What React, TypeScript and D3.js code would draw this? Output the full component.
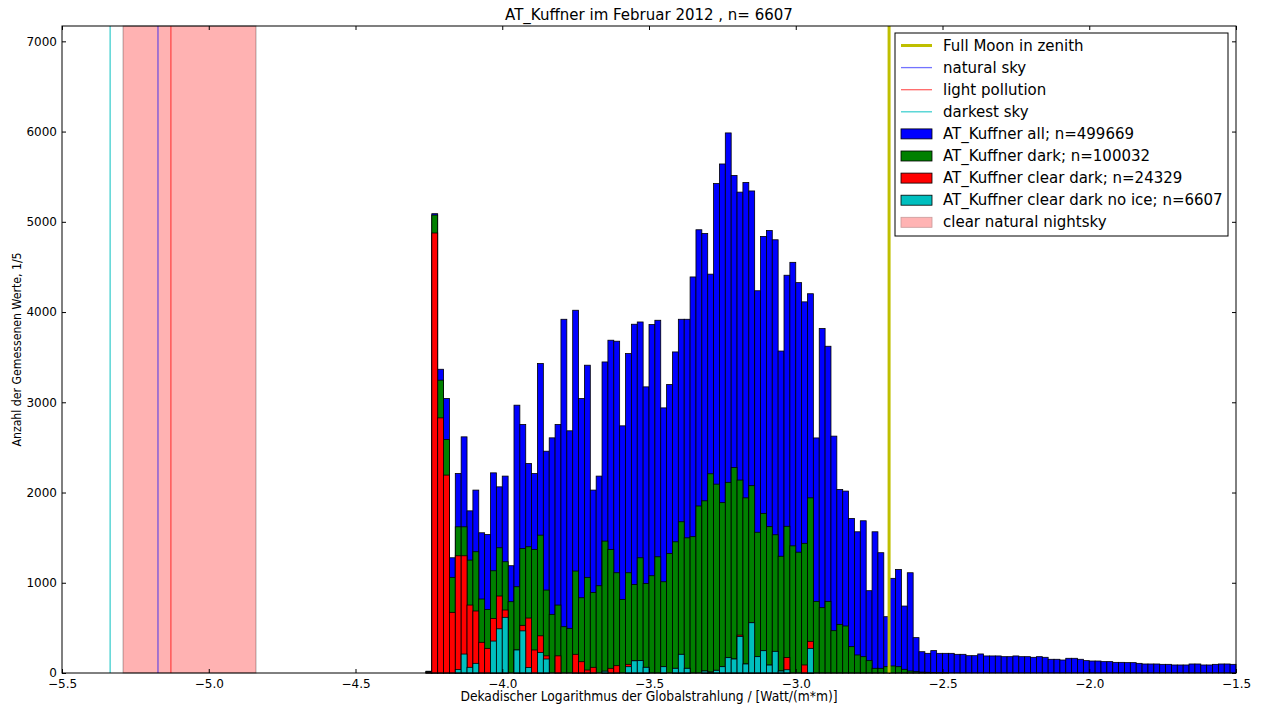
import React, { useEffect, useRef } from 'react';
import * as d3 from 'd3';

// histogram: 200 bins of 0.02 over [-5.5, -1.5]; arrays start at bin -4.26
const BIN_WIDTH = 0.02;
const FIRST_BIN = -4.26;

const allCounts = [
  20, 5090, 3366, 3042, 1277, 2211, 2617, 1797, 2027, 1554,
  1535, 2218, 2063, 2182, 1189, 2968, 2754, 2322, 2211, 3429,
  2458, 2606, 2754, 3920, 2684, 4020, 3042, 3411, 2027, 2182,
  3447, 3688, 3677, 2739, 3540, 3865, 3890, 3171, 3861, 3909,
  2938, 3197, 3558, 3920, 3920, 4389, 4912, 4871, 4420, 5424,
  5641, 5985, 5514, 5329, 5436, 5342, 4236, 4838, 4903, 4801,
  3568, 4408, 4551, 4326, 4113, 4203, 2605, 3818, 3621, 2625,
  2034, 2016, 1713, 1565, 1687, 912, 1565, 1333, 624, 1049,
  1148, 742, 1111, 392,
  236, 218, 248, 218, 218, 218, 207, 207, 192, 192,
  211, 189, 189, 189, 181, 181, 189, 181, 181, 174,
  181, 174, 152, 152, 144, 163, 163, 152, 137, 133,
  133, 126, 126, 118, 118, 115, 115, 107, 100, 100,
  100, 96, 96, 89, 89, 89, 100, 100, 89, 89,
  96, 100, 100, 96,
];

const darkCounts = [
  15, 5075, 3245, 2588, 1060, 1620, 1620, 1251, 1344, 820,
  705, 1133, 1388, 1233, 790, 956, 1380, 1399, 1370, 1528,
  919, 650, 753, 513, 495, 1130, 834, 1060, 893, 967,
  1462, 1370, 1111, 816, 1111, 982, 1277, 993, 1078, 1288,
  1011, 1325, 1454, 1676, 1498, 1511, 1851, 1908, 2208, 2093,
  1888, 2113, 2277, 2138, 1941, 2076, 1560, 1769, 1622, 1532,
  1294, 1626, 1409, 1339, 1437, 1941, 794, 724, 794, 469,
  539, 521, 292, 200, 181, 137, 52, 52, 70, 78,
  70, 41, 22, 15, 10, 8, 5, 4, 3,
];

const clearDarkCounts = [
  10, 4876, 2827, 2193, 672, 1299, 1299, 753, 687, 340,
  273, 605, 853, 698, 0, 255, 528, 609, 255, 412,
  190, 0, 190, 0, 0, 207, 125, 33, 63, 0,
  20, 52, 81, 0, 96, 137, 137, 63, 0, 0,
  70, 0, 52, 207, 52, 0, 0, 22, 10, 30,
  70, 170, 155, 420, 100, 560, 181, 247, 88, 240,
  22, 171, 0, 0, 89, 351,
];

const noIceCounts = [
  0, 0, 0, 0, 0, 40, 210, 63, 107, 0,
  0, 354, 490, 617, 0, 255, 467, 62, 0, 227,
  155, 0, 0, 0, 0, 0, 0, 0, 0, 0,
  20, 0, 0, 0, 70, 135, 137, 63, 0, 0,
  70, 0, 52, 207, 52, 0, 0, 22, 10, 30,
  70, 170, 155, 405, 100, 557, 181, 247, 88, 240,
  22, 36, 0, 0, 0, 273,
];

const histSeries = [
  { label: 'AT_Kuffner all; n=499669', color: '#0000ff', counts: allCounts },
  { label: 'AT_Kuffner dark; n=100032', color: '#008000', counts: darkCounts },
  { label: 'AT_Kuffner clear dark; n=24329', color: '#ff0000', counts: clearDarkCounts },
  { label: 'AT_Kuffner clear dark no ice; n=6607', color: '#00bfbf', counts: noIceCounts },
];

const refLines = [
  { label: 'Full Moon in zenith', value: -2.682, color: '#bfbf00', width: 3, opacity: 1 },
  { label: 'natural sky', value: -5.173, color: '#0000ff', width: 1.3, opacity: 0.55 },
  { label: 'light pollution', value: -5.129, color: '#ff0000', width: 1.3, opacity: 0.6 },
  { label: 'darkest sky', value: -5.336, color: '#00bfbf', width: 1.3, opacity: 0.75 },
];

const nightSpan = { label: 'clear natural nightsky', from: -5.292, to: -4.839 };

const xTicks = [-5.5, -5.0, -4.5, -4.0, -3.5, -3.0, -2.5, -2.0, -1.5];
const yTicks = [0, 1000, 2000, 3000, 4000, 5000, 6000, 7000];

const TITLE = 'AT_Kuffner im Februar 2012 , n= 6607';
const X_LABEL = 'Dekadischer Logarithmus der Globalstrahlung / [Watt/(m*m)]';
const Y_LABEL = 'Anzahl der Gemessenen Werte, 1/5';

const FONT = "'DejaVu Sans', 'Bitstream Vera Sans', sans-serif";
const NARROW = "'DejaVu Sans Condensed', 'Liberation Sans Narrow', 'DejaVu Sans', sans-serif";

export default function App() {
  const ref = useRef<SVGSVGElement>(null);

  useEffect(() => {
    if (!ref.current) return;
    const svg = d3.select(ref.current);
    svg.selectAll('*').remove();

    const width = 1262;
    const height = 706;
    const margin = { top: 26, right: 26, bottom: 33, left: 62 };

    svg.attr('width', width).attr('height', height).attr('viewBox', `0 0 ${width} ${height}`);
    svg.append('rect').attr('width', width).attr('height', height).attr('fill', '#fff');

    const x = d3.scaleLinear().domain([-5.5, -1.5]).range([margin.left, width - margin.right]);
    const y = d3.scaleLinear().domain([0, 7170]).range([height - margin.bottom, margin.top]);

    const plot = svg.append('g');

    // ------- span -------
    plot
      .append('rect')
      .attr('x', x(nightSpan.from))
      .attr('y', y(7170))
      .attr('width', x(nightSpan.to) - x(nightSpan.from))
      .attr('height', y(0) - y(7170))
      .attr('fill', '#ff0000')
      .attr('fill-opacity', 0.3)
      .attr('stroke', '#000')
      .attr('stroke-opacity', 0.3);

    // ------- bars -------
    const bw = x(BIN_WIDTH) - x(0);
    histSeries.forEach((s) => {
      const bins = s.counts
        .map((c, i) => ({ left: FIRST_BIN + i * BIN_WIDTH, c }))
        .filter((d) => d.c > 0);
      plot
        .append('g')
        .selectAll('rect')
        .data(bins)
        .enter()
        .append('rect')
        .attr('x', (d) => x(d.left))
        .attr('y', (d) => y(d.c))
        .attr('width', bw)
        .attr('height', (d) => y(0) - y(d.c))
        .attr('fill', s.color)
        .attr('stroke', '#000')
        .attr('stroke-width', 0.8);
    });

    // ------- reference lines -------
    [...refLines].reverse().forEach((l) => {
      plot
        .append('line')
        .attr('x1', x(l.value))
        .attr('x2', x(l.value))
        .attr('y1', y(0))
        .attr('y2', y(7170))
        .attr('stroke', l.color)
        .attr('stroke-opacity', l.opacity)
        .attr('stroke-width', l.width);
    });

    // ------- axes -------
    const fmt = (v: number) => v.toFixed(1).replace('-', '\u2212');
    const bottom = svg
      .append('g')
      .attr('transform', `translate(0,${y(0)})`)
      .call(d3.axisBottom(x).tickValues(xTicks).tickFormat(fmt as any).tickSizeInner(-4).tickSizeOuter(0).tickPadding(6));
    const left = svg
      .append('g')
      .attr('transform', `translate(${x(-5.5)},0)`)
      .call(d3.axisLeft(y).tickValues(yTicks).tickFormat(d3.format('d') as any).tickSizeInner(-4).tickSizeOuter(0).tickPadding(5));
    svg
      .append('g')
      .attr('transform', `translate(0,${y(7170)})`)
      .call(d3.axisTop(x).tickValues(xTicks).tickFormat(() => '').tickSizeInner(-4).tickSizeOuter(0));
    svg
      .append('g')
      .attr('transform', `translate(${x(-1.5)},0)`)
      .call(d3.axisRight(y).tickValues(yTicks).tickFormat(() => '').tickSizeInner(-4).tickSizeOuter(0));
    svg.selectAll('.domain').remove();
    svg.selectAll('.tick line').attr('stroke', '#000');
    [bottom, left].forEach((g) =>
      g.selectAll('text').attr('font-family', FONT).attr('font-size', 12).attr('fill', '#000')
    );

    svg
      .append('rect')
      .attr('x', x(-5.5))
      .attr('y', y(7170))
      .attr('width', x(-1.5) - x(-5.5))
      .attr('height', y(0) - y(7170))
      .attr('fill', 'none')
      .attr('stroke', '#000')
      .attr('stroke-width', 1);

    // ------- texts -------
    svg
      .append('text')
      .attr('x', (x(-5.5) + x(-1.5)) / 2)
      .attr('y', 20)
      .attr('text-anchor', 'middle')
      .attr('font-family', FONT)
      .attr('font-size', 15)
      .text(TITLE);

    svg
      .append('text')
      .attr('x', (x(-5.5) + x(-1.5)) / 2)
      .attr('y', 701)
      .attr('text-anchor', 'middle')
      .attr('font-family', NARROW)
      .attr('font-stretch', 'condensed')
      .attr('font-size', 13.7)
      .text(X_LABEL);

    svg
      .append('text')
      .attr('transform', `translate(21,${(y(0) + y(7170)) / 2}) rotate(-90)`)
      .attr('text-anchor', 'middle')
      .attr('font-family', NARROW)
      .attr('font-stretch', 'condensed')
      .attr('font-size', 12.2)
      .text(Y_LABEL);

    // ------- legend -------
    const lg = svg.append('g').attr('transform', 'translate(895,33)');
    lg.append('rect')
      .attr('width', 333)
      .attr('height', 203)
      .attr('fill', '#fff')
      .attr('stroke', '#000')
      .attr('stroke-width', 1);

    const items = [
      ...refLines.map((l) => ({ kind: 'line', ...l })),
      ...histSeries.map((s) => ({ kind: 'patch', label: s.label, color: s.color, opacity: 1, edge: '#000' })),
      { kind: 'patch', label: nightSpan.label, color: '#ffb3b3', opacity: 1, edge: '#c89a9a' },
    ] as any[];

    items.forEach((it, i) => {
      const cy = 12.5 + i * 22.1;
      if (it.kind === 'line') {
        lg.append('line')
          .attr('x1', 6)
          .attr('x2', 37)
          .attr('y1', cy)
          .attr('y2', cy)
          .attr('stroke', it.color)
          .attr('stroke-opacity', it.opacity)
          .attr('stroke-width', it.width);
      } else {
        lg.append('rect')
          .attr('x', 6)
          .attr('y', cy - 5)
          .attr('width', 31)
          .attr('height', 10)
          .attr('fill', it.color)
          .attr('stroke', it.edge)
          .attr('stroke-width', 0.8);
      }
      lg.append('text')
        .attr('x', 48)
        .attr('y', cy + 5)
        .attr('font-family', FONT)
        .attr('font-size', 15)
        .text(it.label);
    });
  }, []);

  return (
    <svg
      ref={ref}
      style={{ position: 'absolute', left: 0, top: 0, display: 'block' }}
      width={1262}
      height={706}
    />
  );
}
